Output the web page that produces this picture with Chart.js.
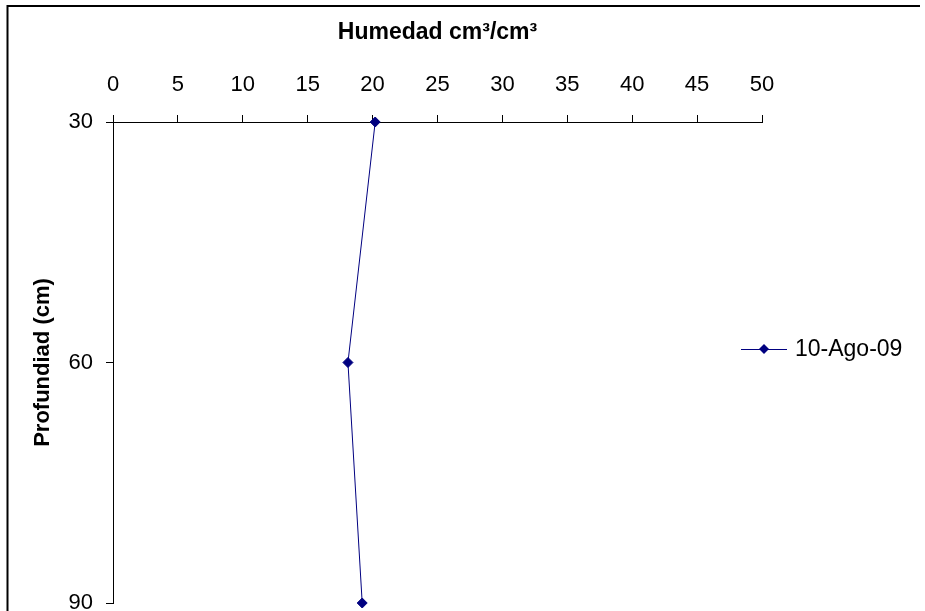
<!DOCTYPE html>
<html>
<head>
<meta charset="utf-8">
<script src="https://cdn.jsdelivr.net/npm/chart.js@4"></script>
<style>
    html, body { margin: 0; padding: 0; background: #fff; }
    #wrap { width: 925px; height: 611px; position: relative; }
</style>
</head>
<body>
<div id="wrap"><canvas id="humedad-chart"></canvas></div>
<script>
const humedad = [20.2, 18.1, 19.2];
const profundidad = [30, 60, 90];
const depthTicks = [30, 60, 90];
const serieLabel = '10-Ago-09';

const fontFamily = 'Arial, "Liberation Sans", sans-serif';
const navy = '#000080';

// frame round the picture (top and left edges only show)
const framePlugin = {
    id: 'frame',
    afterDraw(chart) {
        const ctx = chart.ctx;
        ctx.save();
        ctx.strokeStyle = '#000';
        ctx.lineWidth = 2;
        ctx.beginPath();
        ctx.moveTo(920, 6);
        ctx.lineTo(7.5, 6);
        ctx.lineTo(7.5, 611);
        ctx.stroke();
        ctx.restore();
    }
};

// legend drawn as line + diamond like the excel one
const lineLegend = {
    id: 'lineLegend',
    afterDraw(chart) {
        const ctx = chart.ctx;
        const ds = chart.data.datasets[0];
        const x0 = 741, x1 = 787, y = 349;
        ctx.save();
        ctx.strokeStyle = ds.borderColor;
        ctx.lineWidth = 1;
        ctx.beginPath();
        ctx.moveTo(x0, y + 0.5);
        ctx.lineTo(x1, y + 0.5);
        ctx.stroke();
        const mid = (x0 + x1) / 2;
        const r = 5;
        ctx.fillStyle = ds.backgroundColor;
        ctx.beginPath();
        ctx.moveTo(mid, y - r);
        ctx.lineTo(mid + r, y);
        ctx.lineTo(mid, y + r);
        ctx.lineTo(mid - r, y);
        ctx.closePath();
        ctx.fill();
        ctx.fillStyle = '#000';
        ctx.font = '23px ' + fontFamily;
        ctx.textBaseline = 'middle';
        ctx.fillText(ds.label, 795, y + 1);
        ctx.restore();
    }
};

new Chart(document.getElementById('humedad-chart'), {
    type: 'line',
    data: {
        datasets: [{
            label: serieLabel,
            data: humedad.map((h, i) => ({ x: h, y: profundidad[i] })),
            borderColor: navy,
            backgroundColor: navy,
            borderWidth: 1,
            pointStyle: 'rectRot',
            pointRadius: 5,
            pointHoverRadius: 5,
            tension: 0,
            clip: false
        }]
    },
    options: {
        responsive: true,
        maintainAspectRatio: false,
        animation: false,
        layout: {
            padding: { left: 0, top: 0, right: 163, bottom: 8 }
        },
        plugins: {
            legend: { display: false },
            tooltip: { enabled: false }
        },
        scales: {
            x: {
                type: 'linear',
                position: 'top',
                min: 0,
                max: 50,
                afterFit: s => { s.height = 122; s.paddingLeft = 0; s.paddingRight = 0; },
                ticks: {
                    stepSize: 5,
                    color: '#000',
                    padding: 17,
                    font: { family: fontFamily, size: 22 }
                },
                grid: {
                    drawOnChartArea: false,
                    tickLength: 7,
                    color: '#000'
                },
                border: { color: '#000', width: 1 },
                title: {
                    display: true,
                    text: 'Humedad cm\u00B3/cm\u00B3',
                    color: '#000',
                    padding: { top: 19, bottom: 0 },
                    font: { family: fontFamily, size: 23, weight: 'bold' }
                }
            },
            y: {
                type: 'linear',
                reverse: true,
                min: 30,
                max: 90,
                afterFit: s => { s.width = 113; s.paddingTop = 0; s.paddingBottom = 0; },
                afterBuildTicks: s => { s.ticks = depthTicks.map(v => ({ value: v })); },
                ticks: {
                    color: '#000',
                    padding: 13,
                    font: { family: fontFamily, size: 22 }
                },
                grid: {
                    drawOnChartArea: false,
                    tickLength: 7,
                    color: '#000'
                },
                border: { color: '#000', width: 1 },
                title: {
                    display: true,
                    text: 'Profundiad (cm)',
                    color: '#000',
                    padding: { top: 30, bottom: 0 },
                    font: { family: fontFamily, size: 22, weight: 'bold' }
                }
            }
        }
    },
    plugins: [framePlugin, lineLegend]
});
</script>
</body>
</html>
